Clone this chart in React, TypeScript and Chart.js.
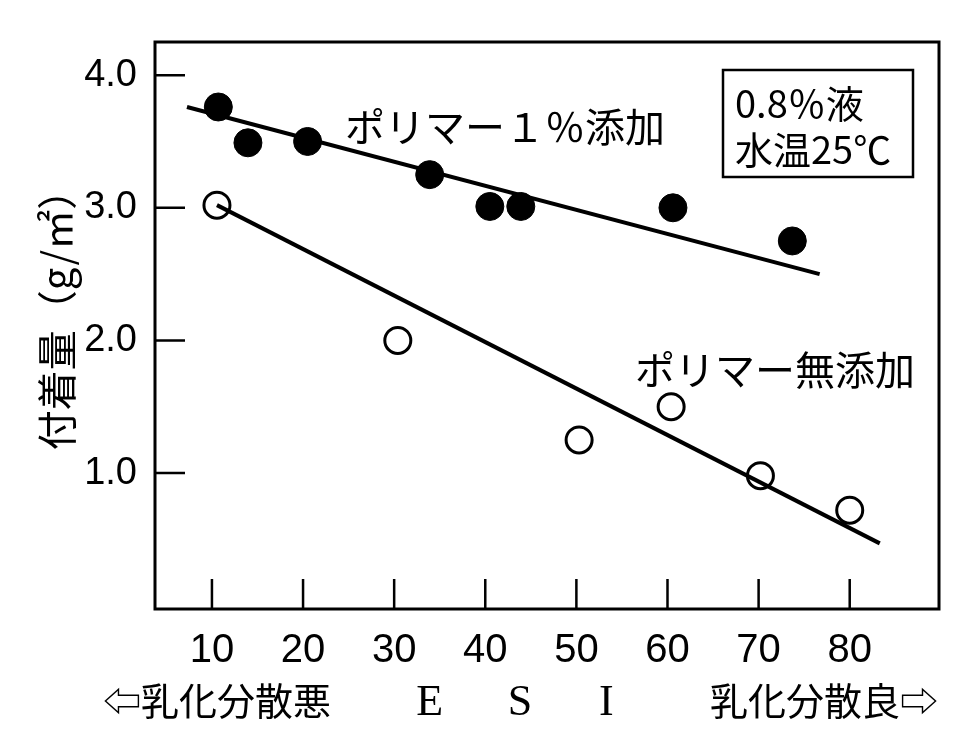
import React, { useEffect, useRef } from "react";
import { Chart, registerables } from "chart.js";
Chart.register(...registerables);

// ESI values and adhesion amounts (g/m²)
const polymerX = [10.7, 13.95, 20.5, 33.9, 40.5, 43.9, 60.6, 73.7];
const polymerY = [3.76, 3.49, 3.5, 3.25, 3.01, 3.01, 3.0, 2.75];
const noPolymerX = [10.55, 30.4, 50.3, 60.4, 70.2, 80.0];
const noPolymerY = [3.02, 2.0, 1.25, 1.5, 0.98, 0.72];
const polymerFitX = [7.26, 76.7];
const polymerFitY = [3.76, 2.5];
const noPolymerFitX = [10.55, 83.3];
const noPolymerFitY = [3.02, 0.47];

const xTicks = [10, 20, 30, 40, 50, 60, 70, 80];
const yTicks = [1, 2, 3, 4];
const xLimits = [3.75, 89.8];
const yLimits = [-0.025, 4.25];

const yTitle = "付着量（g/㎡）";
const labelPolymer = "ポリマー１％添加";
const labelNoPolymer = "ポリマー無添加";
const noteLines = ["0.8％液", "水温25℃"];
const leftCaption = "⇦乳化分散悪";
const rightCaption = "乳化分散良⇨";
const esiLetters = ["E", "S", "I"];
const esiPositions = [33.9, 43.8, 53.3];

const CJK = '"Noto Sans CJK JP", "DejaVu Sans", sans-serif';
const NUM = '"Liberation Sans Narrow", "Liberation Sans", Arial, sans-serif';

const toPts = (xs: number[], ys: number[]) => xs.map((x, i) => ({ x, y: ys[i] }));

const decorPlugin = {
  id: "decor",
  afterDraw(chart: any) {
    const { ctx, chartArea: a, scales } = chart;
    ctx.save();
    ctx.strokeStyle = "#000";
    ctx.fillStyle = "#000";
    // frame
    ctx.lineWidth = 3;
    ctx.strokeRect(a.left, a.top, a.right - a.left, a.bottom - a.top);
    // inward ticks
    ctx.lineWidth = 2.5;
    ctx.beginPath();
    xTicks.forEach((v) => {
      const x = scales.x.getPixelForValue(v);
      ctx.moveTo(x, a.bottom);
      ctx.lineTo(x, a.bottom - 30);
    });
    yTicks.forEach((v) => {
      const y = scales.y.getPixelForValue(v);
      ctx.moveTo(a.left, y);
      ctx.lineTo(a.left + 30, y);
    });
    ctx.stroke();

    // y title
    ctx.save();
    ctx.translate(49, 302);
    ctx.rotate(-Math.PI / 2);
    ctx.font = `40px ${CJK}`;
    ctx.textAlign = "center";
    ctx.textBaseline = "middle";
    ctx.fillText(yTitle, 0, 0);
    ctx.restore();

    // series labels
    ctx.font = `40px ${CJK}`;
    ctx.textAlign = "left";
    ctx.textBaseline = "middle";
    ctx.fillText(labelPolymer, 337, 119);
    ctx.fillText(labelNoPolymer, 627, 362);

    // note box
    ctx.lineWidth = 2.5;
    ctx.strokeRect(715, 62, 190, 107);
    ctx.font = `38px ${CJK}`;
    ctx.fillText(noteLines[0], 727, 96);
    ctx.fillText(noteLines[1], 727, 142);

    // bottom captions
    const by = 693;
    ctx.font = `38px ${CJK}`;
    ctx.textAlign = "left";
    ctx.fillText(leftCaption, 95, by);
    ctx.textAlign = "right";
    ctx.fillText(rightCaption, 930, by);
    ctx.font = `44px "Liberation Serif", serif`;
    ctx.textAlign = "center";
    esiLetters.forEach((t, i) => {
      ctx.fillText(t, scales.x.getPixelForValue(esiPositions[i]), by + 2);
    });
    ctx.restore();
  },
};

export default function App() {
  const ref = useRef<HTMLCanvasElement>(null);
  useEffect(() => {
    if (!ref.current) return;
    const chart = new Chart(ref.current, {
      type: "scatter",
      data: {
        datasets: [
          {
            type: "line",
            data: toPts(polymerFitX, polymerFitY),
            borderColor: "#000",
            borderWidth: 4,
            pointRadius: 0,
            showLine: true,
            order: 0,
          } as any,
          {
            type: "line",
            data: toPts(noPolymerFitX, noPolymerFitY),
            borderColor: "#000",
            borderWidth: 4,
            pointRadius: 0,
            showLine: true,
            order: 0,
          } as any,
          {
            data: toPts(polymerX, polymerY),
            backgroundColor: "#000",
            borderColor: "#000",
            borderWidth: 1,
            pointRadius: 14,
            order: 1,
          },
          {
            data: toPts(noPolymerX, noPolymerY),
            backgroundColor: "#fff",
            borderColor: "#000",
            borderWidth: 3,
            pointRadius: 13,
            order: 1,
          },
        ],
      },
      options: {
        animation: false,
        responsive: true,
        maintainAspectRatio: false,
        layout: { padding: { top: 34, right: 25, left: 0, bottom: 0 } },
        plugins: { legend: { display: false }, tooltip: { enabled: false } },
        scales: {
          x: {
            type: "linear",
            min: xLimits[0],
            max: xLimits[1],
            grid: { display: false },
            border: { display: false },
            afterBuildTicks: (s: any) => {
              s.ticks = xTicks.map((v) => ({ value: v }));
            },
            afterFit: (s: any) => {
              s.height = 130;
            },
            ticks: {
              color: "#000",
              font: { family: NUM, size: 40 },
              padding: 10,
              maxRotation: 0,
              autoSkip: false,
              callback: (v: any) => String(v),
            },
          },
          y: {
            type: "linear",
            min: yLimits[0],
            max: yLimits[1],
            grid: { display: false },
            border: { display: false },
            afterBuildTicks: (s: any) => {
              s.ticks = yTicks.map((v) => ({ value: v }));
            },
            afterFit: (s: any) => {
              s.width = 147;
            },
            ticks: {
              color: "#000",
              font: { family: NUM, size: 38 },
              padding: 10,
              callback: (v: any) => Number(v).toFixed(1),
            },
          },
        },
      },
      plugins: [decorPlugin],
    });
    return () => chart.destroy();
  }, []);
  return (
    <div style={{ width: 956, height: 731, position: "relative" }}>
      <canvas ref={ref} />
    </div>
  );
}
